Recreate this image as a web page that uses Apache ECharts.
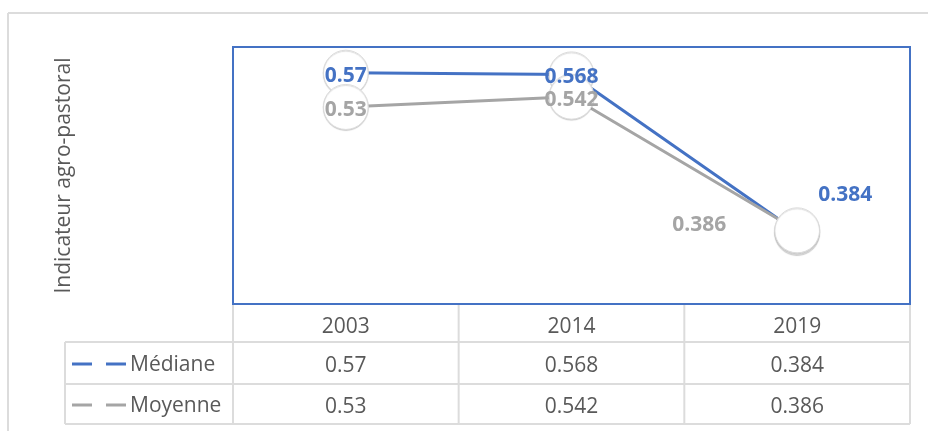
<!DOCTYPE html>
<html>
<head>
<meta charset="utf-8">
<script src="https://cdn.jsdelivr.net/npm/echarts@6/dist/echarts.min.js"></script>
<style>
html,body{margin:0;padding:0;background:#fff;}
#chart{width:928px;height:431px;}
</style>
</head>
<body>
<div id="chart"></div>
<script>
const categories = ['2003', '2014', '2019'];
const seriesNames = ['Médiane', 'Moyenne'];
const medianValues = [0.57, 0.568, 0.384];
const meanValues = [0.53, 0.542, 0.386];
const yAxisTitle = 'Indicateur agro-pastoral';

const FONT = '"Open Sans", "Noto Sans", sans-serif';
const TXT = '#595959';
const BLUE = '#4472C4';
const GRAY = '#A5A5A5';
const LINE = '#DCDCDC';

const medianOffsets = [[0, 3], [0, 3], [48, -37]];
const meanOffsets = [[0, 3], [0, 3], [-98, -5]];

function mkData(vals, offsets) {
  return vals.map((v, i) => ({
    value: v,
    label: { offset: offsets[i] }
  }));
}

function seriesOf(name, vals, offsets, color) {
  return {
    name: name,
    type: 'line',
    data: mkData(vals, offsets),
    lineStyle: { color: color, width: 3 },
    symbol: 'circle',
    symbolSize: 45,
    itemStyle: {
      color: '#ffffff',
      borderColor: LINE,
      borderWidth: 1,
      shadowColor: 'rgba(0,0,0,0.15)',
      shadowBlur: 1,
      shadowOffsetY: 1
    },
    label: {
      show: true,
      position: 'inside',
      color: color,
      fontFamily: FONT,
      fontWeight: 'bold',
      fontSize: 21,
      formatter: p => String(p.value)
    },
    emphasis: { disabled: true },
    animation: false
  };
}

const chart = echarts.init(document.getElementById('chart'), null, { renderer: 'canvas' });
chart.setOption({
  backgroundColor: '#ffffff',
  animation: false,
  grid: {
    left: 233, top: 47, width: 677, height: 257,
    show: true, borderColor: BLUE, borderWidth: 2, backgroundColor: 'transparent'
  },
  xAxis: {
    type: 'category',
    data: categories,
    boundaryGap: true,
    axisLine: { show: false },
    axisTick: { show: false },
    axisLabel: { show: false },
    splitLine: { show: false }
  },
  yAxis: {
    type: 'value',
    min: 0.3, max: 0.6,
    axisLine: { show: false },
    axisTick: { show: false },
    axisLabel: { show: false },
    splitLine: { show: false },
    name: yAxisTitle,
    nameLocation: 'middle',
    nameRotate: 90,
    nameGap: 158,
    nameTextStyle: { color: TXT, fontFamily: FONT, fontSize: 21 }
  },
  series: [
    seriesOf(seriesNames[0], medianValues, medianOffsets, BLUE),
    seriesOf(seriesNames[1], meanValues, meanOffsets, GRAY)
  ]
});

// Data table drawn below the plot, built from the same arrays
const colCenters = categories.map(c => chart.convertToPixel({ xAxisIndex: 0 }, c));
const plotLeft = 233, plotRight = 910, plotBottom = 304;
const colW = (plotRight - plotLeft) / categories.length;
const rowTop = [342, 384];
const rowBottom = 424;
const tableLeft = 65;
const g = [];

function hline(x1, x2, y) {
  g.push({ type: 'line', shape: { x1: x1, y1: y, x2: x2, y2: y }, style: { stroke: LINE, lineWidth: 2 }, silent: true });
}
function vline(x, y1, y2) {
  g.push({ type: 'line', shape: { x1: x, y1: y1, x2: x, y2: y2 }, style: { stroke: LINE, lineWidth: 2 }, silent: true });
}
function text(str, x, y, align) {
  g.push({ type: 'text', x: x, y: y, style: { text: str, fill: TXT, font: '21px ' + FONT, align: align || 'center', verticalAlign: 'middle' }, silent: true });
}

// outer chart-area border
hline(8, 928, 13);
vline(8, 13, 431);

// table grid
rowTop.forEach(y => hline(tableLeft, plotRight, y));
hline(tableLeft, plotRight, rowBottom);
vline(tableLeft, rowTop[0], rowBottom);
for (let i = 0; i <= categories.length; i++) {
  vline(plotLeft + i * colW, plotBottom + 1, rowBottom);
}

// header
categories.forEach((c, i) => text(c, colCenters[i], 327));

// rows
const rows = [
  { name: seriesNames[0], vals: medianValues, color: BLUE, y: 364 },
  { name: seriesNames[1], vals: meanValues, color: GRAY, y: 405 }
];
rows.forEach(r => {
  g.push({ type: 'line', shape: { x1: 72, y1: r.y, x2: 127, y2: r.y },
    style: { stroke: r.color, lineWidth: 3, lineDash: [20, 14] }, silent: true });
  text(r.name, 130, r.y + 1, 'left');
  r.vals.forEach((v, i) => text(String(v), colCenters[i], r.y + 2));
});

chart.setOption({ graphic: { elements: g } });
</script>
</body>
</html>
